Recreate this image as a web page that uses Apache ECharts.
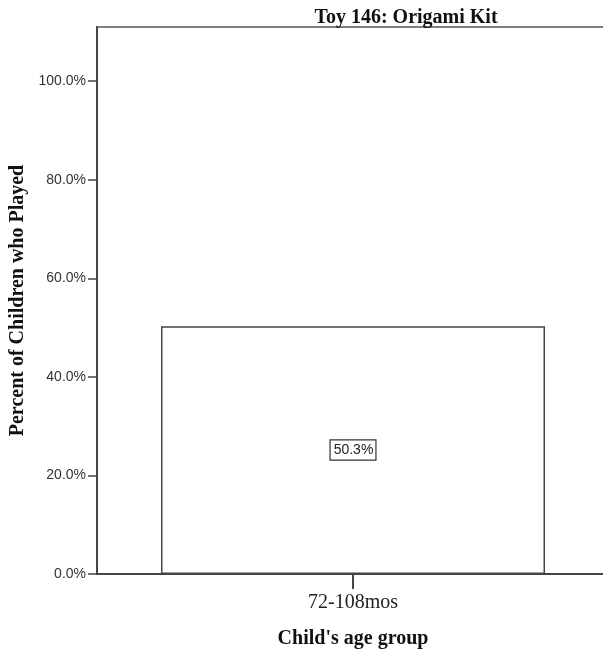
<!DOCTYPE html>
<html><head><meta charset="utf-8">
<script src="https://cdn.jsdelivr.net/npm/echarts@6/dist/echarts.min.js"></script>
<style>html,body{margin:0;padding:0;background:#fff}#c{width:603px;height:650px}</style>
</head><body><div id="c"></div>
<script>
const title = "Toy 146: Origami Kit";
const categories = ["72-108mos"];
const percentPlayed = [50.3];
const yTicks = [0, 20, 40, 60, 80, 100];
const yMax = 111;
const xName = "Child's age group";
const yName = "Percent of Children who Played";

const chart = echarts.init(document.getElementById('c'), null, {renderer: 'canvas'});
chart.setOption({
  animation: false,
  backgroundColor: '#fff',
  title: {
    text: title, left: 401, top: 3, textAlign: 'center',
    textStyle: {fontFamily: 'Liberation Serif', fontWeight: 'bold', fontSize: 20, color: '#111'}
  },
  grid: {left: 97, top: 27, width: 512, bottom: 76, outerBoundsMode: 'none', containLabel: false,
         show: true, borderColor: '#555', borderWidth: 1.5, backgroundColor: 'transparent'},
  xAxis: {
    type: 'category', data: categories,
    name: xName, nameLocation: 'middle', nameGap: 55,
    nameTextStyle: {fontFamily: 'Liberation Serif', fontWeight: 'bold', fontSize: 20, color: '#111'},
    axisLine: {lineStyle: {color: '#444', width: 2}},
    axisTick: {show: true, interval: 0, alignWithLabel: true, length: 15, lineStyle: {color: '#444', width: 2}},
    axisLabel: {interval: 0, fontFamily: 'Liberation Serif', fontSize: 20, color: '#222', margin: 19}
  },
  yAxis: {
    type: 'value', min: 0, max: yMax, interval: 20,
    name: yName, nameLocation: 'middle', nameGap: 69, nameRotate: 90,
    nameTextStyle: {fontFamily: 'Liberation Serif', fontWeight: 'bold', fontSize: 20, color: '#111'},
    splitLine: {show: false},
    axisLine: {show: true, lineStyle: {color: '#444', width: 2}},
    axisTick: {show: true, length: 9, customValues: yTicks, lineStyle: {color: '#444', width: 1.5}},
    axisLabel: {customValues: yTicks, formatter: v => v.toFixed(1) + '%', fontFamily: 'Liberation Sans', fontSize: 14, color: '#333', margin: 11}
  },
  series: [{
    type: 'bar', data: percentPlayed, barWidth: '75%',
    itemStyle: {color: '#fff', borderColor: '#444', borderWidth: 1.5},
    label: {
      show: true, position: 'inside', formatter: p => p.value.toFixed(1) + '%',
      fontFamily: 'Liberation Sans', fontSize: 14, color: '#222',
      borderColor: '#333', borderWidth: 1.2, padding: [3, 2, 2, 3], backgroundColor: '#fff'
    }
  }]
});
</script></body></html>
